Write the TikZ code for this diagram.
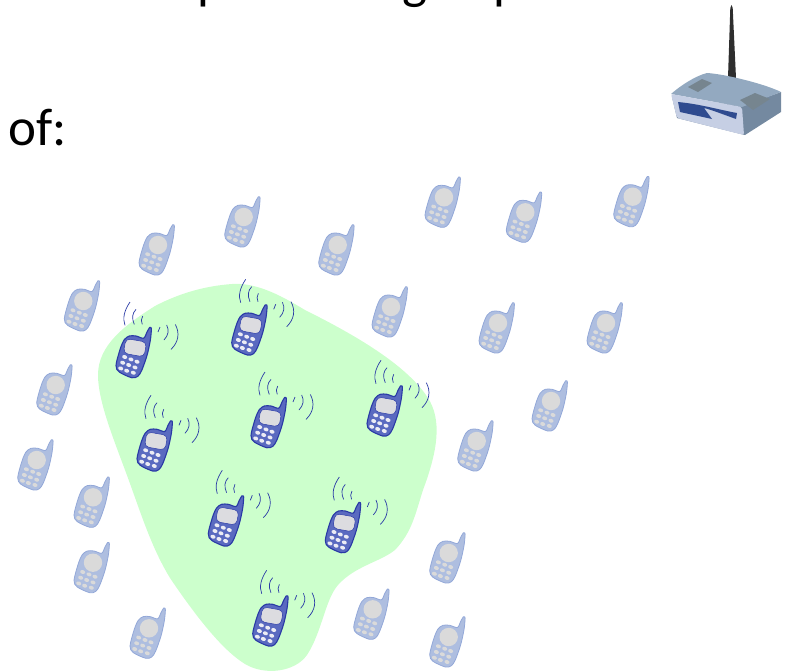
\documentclass[tikz,border=0pt]{standalone}
\usepackage{fontspec}
\setmainfont{Carlito}
\definecolor{blobg}{HTML}{CCFFCC}
\definecolor{lightfill}{HTML}{AEBEE0}
\definecolor{lightline}{HTML}{93A8D8}
\definecolor{lightscreen}{HTML}{DADADA}
\definecolor{darkfill}{HTML}{5A6AC0}
\definecolor{darkline}{HTML}{2A3AA6}
\definecolor{darkscreen}{HTML}{DCDCE0}
\definecolor{darkkey}{HTML}{ECECF4}
\definecolor{routertop}{HTML}{93A9C0}
\definecolor{routerpad}{HTML}{76858F}
\definecolor{routerside}{HTML}{7489A0}
\definecolor{routerfront}{HTML}{C6CFE4}
\definecolor{routerpanel}{HTML}{2F4B8F}
\newcommand{\phoneoutline}{plot[smooth cycle,tension=.5] coordinates {(15.6,-20.2) (16.4,-18.5) (15.3,-7.3) (12,7.7) (6.7,22.7) (2.7,28.7) (-3.3,30) (-15.7,24.3) (-19,17.7) (-14.7,1) (-10.7,-8) (-5.7,-11.7) (1,-11.7) (8.7,-9.5) (12,-15.7) (14.6,-20.2)}}
\newcommand{\phonekeys}[1]{\foreach \kx/\ky in {-10.3/9.3,-4/11.7,2/14,-12.3/15,-6.3/17.3,0/19.7,-14.3/20.7,-8.3/23,-1.7/25}
  \path[fill=#1,rotate around={-20:(\kx,\ky)}] (\kx,\ky) ellipse [x radius=2.6,y radius=1.9];}
\tikzset{
  x=1pt,y=-1pt,
  lighthandset/.pic={
    \path[draw=lightline,fill=lightfill,line width=.8pt] \phoneoutline;
    \path[fill=lightscreen] (0,0) circle [radius=9.2];
    \phonekeys{lightscreen}
  },
  darkhandset/.pic={
    \path[draw=darkline,fill=darkfill,line width=1.1pt] \phoneoutline;
    \path[fill=darkscreen,draw=darkline,line width=.5pt,rotate=-10,rounded corners=4.5pt]
      (-10.5,-7.5) rectangle (10.5,7.5);
    \phonekeys{darkkey}
    \draw[darkline,line width=.7pt] (-10,-22.3) .. controls (-12.6,-29.2) and (-10.9,-37) .. (-5,-45.7);
    \draw[darkline,line width=.7pt] (-0.7,-23.3) .. controls (-3.4,-29.5) and (-2.8,-34.5) .. (1,-38.3);
    \draw[darkline,line width=.7pt] (7.3,-23.3) .. controls (6,-26) and (6,-29) .. (7.7,-31.7);
    \draw[darkline,line width=.7pt] (23,-15.7) .. controls (24,-17.5) and (24.5,-19) .. (25,-20.7);
    \draw[darkline,line width=.7pt] (29,-7.7) .. controls (33.4,-12.4) and (34.3,-17.4) .. (31.7,-22.7);
    \draw[darkline,line width=.7pt] (36,1.7) .. controls (43.5,-5.6) and (45,-14.6) .. (40.3,-23.3);
  },
  textline/.style={font=\fontsize{53}{53}\selectfont,text=black,inner sep=0pt,anchor=base west},
}
\begin{document}
\begin{tikzpicture}[x=1pt,y=-1pt]
\useasboundingbox (0,0) rectangle (785,670);
\begin{scope}
\clip (0,0) rectangle (785,670);
\fill[blobg] (232,284) .. controls (258,282) and (285,298) .. (305,310)
  .. controls (345,330) and (405,362) .. (428,398)
  .. controls (442,420) and (438,450) .. (423,490)
  .. controls (415,515) and (412,532) .. (395,550)
  .. controls (380,562) and (355,566) .. (338,585)
  .. controls (325,600) and (322,632) .. (307,655)
  .. controls (295,672) and (265,676) .. (245,664)
  .. controls (222,650) and (195,615) .. (170,578)
  .. controls (150,545) and (140,510) .. (125,470)
  .. controls (112,435) and (98,400) .. (98,375)
  .. controls (98,345) and (125,325) .. (155,306)
  .. controls (180,293) and (205,286) .. (232,284) -- cycle;
\node[textline] (ofword) at (8,145) {of:};
\node[textline] (pa) at (197,-2) {p};
\node[textline] (pb) at (402,-2) {g};
\node[textline] (pc) at (493,-2) {p};
\end{scope}

\foreach \n/\px/\py in {l1/158/245,l2/243.7/217,l3/337.7/245,l4/444/197.3,l5/525.3/212.3,l6/632.7/196.7,
  l7/83.3/301,l8/391/307,l9/498/323,l10/606/323,l11/55.7/385,l12/551/401,l13/36.7/460,l14/476.7/441,
  l15/93/497.3,l16/93/562.7,l17/448.7/553,l18/372.7/609.3,l19/448.7/637,l20/149/628.3}
  \pic (\n) at (\px,\py) {lighthandset};

\foreach \n/\px/\py in {d1/135/347.7,d2/250.7/325,d3/156/441,d4/270/417.7,d5/386/406,d6/227.3/516,d7/344.3/522.7,d8/271.7/616}
  \pic (\n) at (\px,\py) {darkhandset};

% router
\fill[black!82] (728,78) -- (730.3,8) -- (731.5,5) -- (732.7,8) -- (736,78) -- cycle;
\fill[routerside] (672,97) -- (742,106) -- (781,92) -- (781,112) -- (745,135) -- (677,118) -- cycle;
\fill[routertop] (707,73) .. controls (725,74) and (765,84) .. (781,92)
  -- (742,107) -- (671,94) .. controls (680,86) and (695,76) .. (707,73) -- cycle;
\fill[routerpad] (688,87) -- (702,79) -- (712,83) -- (698,92) -- cycle;
\fill[routerpad] (740,100) -- (755,93) -- (770,99) -- (753,110) -- cycle;
\fill[routerfront,rounded corners=2pt] (671,94) -- (742,107) -- (744,135) -- (677,118) -- cycle;
\fill[routerpanel] (678,102) .. controls (700,104) and (720,110) .. (737,113) -- (736,119) .. controls (722,114) and (712,110) .. (704,108) -- (712,119) -- (680,112) -- cycle;
\end{tikzpicture}
\end{document}
